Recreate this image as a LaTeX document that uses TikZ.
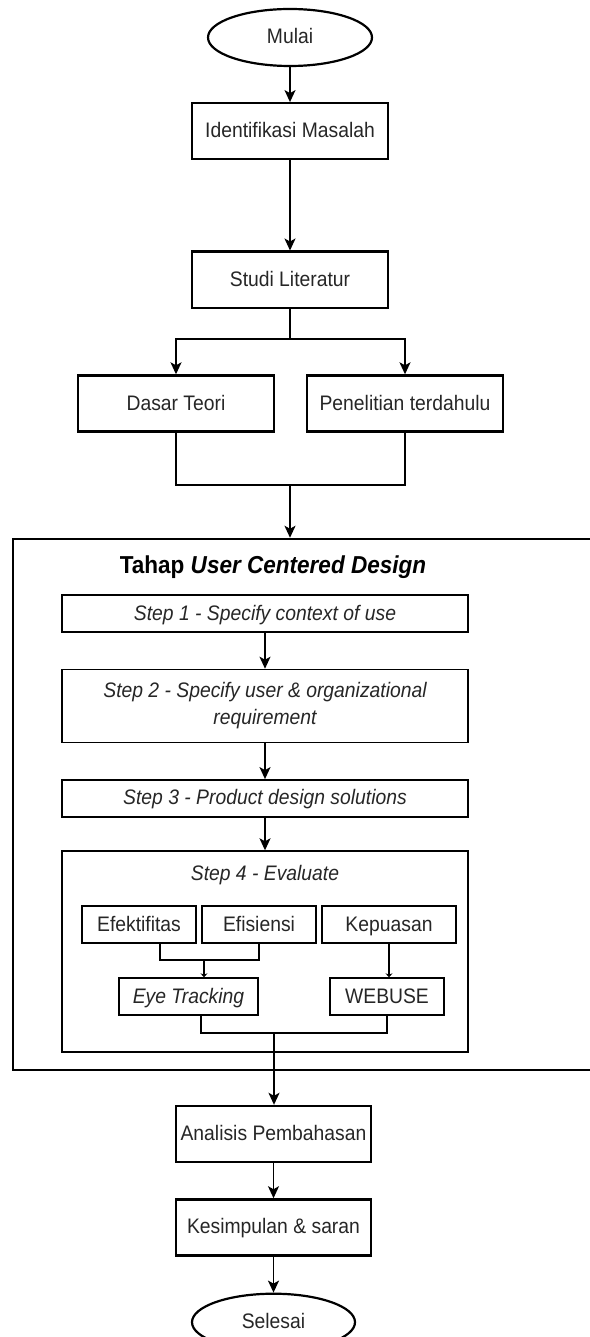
\documentclass[tikz,border=0pt]{standalone}
\usepackage{fontspec}
\setmainfont[FakeStretch=0.92]{Liberation Sans}
\usetikzlibrary{arrows.meta,positioning,shapes.geometric}

\begin{document}
\begin{tikzpicture}[x=1pt, y=-1pt,
    font=\fontsize{21}{26}\selectfont,
    mainbox/.style={draw, line width=2.4pt, minimum width=196pt, minimum height=56pt,
                    inner sep=0pt, align=center, text=black!85,
                    text height=15pt, text depth=2pt},
    termnode/.style={ellipse, draw, line width=2.2pt, minimum width=164pt,
                     minimum height=57pt, inner sep=0pt, text=black!85,
                     text height=15pt, text depth=2pt},
    stepbox/.style={draw, line width=1.4pt, minimum width=406pt, minimum height=37pt,
                    inner sep=0pt, align=center, text=black!85,
                    text height=15pt, text depth=2pt,
                    font=\fontsize{21}{27}\selectfont\itshape},
    evalbox/.style={draw, line width=1.4pt, minimum width=114pt, minimum height=37pt,
                    inner sep=0pt, text=black!85, text height=15pt, text depth=2pt},
    flowarrow/.style={-{Stealth[length=12pt,width=11pt,inset=3pt]}, line width=1.6pt},
    tinyarrow/.style={-{Stealth[length=4pt,width=7pt]}, line width=1.4pt},
    joinline/.style={line width=1.6pt},
    thinline/.style={line width=1.4pt},
  ]
  \useasboundingbox (0,0) rectangle (589,1337);

  % === Top: start and literature ===
  \node[termnode] (mulai) at (290,37.5) {Mulai};
  \node[mainbox, below=35pt of mulai] (ident) {Identifikasi Masalah};
  \node[mainbox, below=90pt of ident] (studi) {Studi Literatur};
  \node[mainbox] (dasar) at (176,403.5) {Dasar Teori};
  \node[mainbox] (penel) at (405,403.5) {Penelitian terdahulu};

  \draw[flowarrow] (mulai) -- (ident);
  \draw[flowarrow] (ident) -- (studi);

  % split and join
  \coordinate (split1) at (290,339);
  \coordinate (join1) at (290,485);
  \draw[joinline] (studi.south) -- (split1);
  \draw[flowarrow] (split1) -| (dasar.north);
  \draw[flowarrow] (split1) -| (penel.north);
  \draw[joinline] (dasar.south) |- (join1) -| (penel.south);

  % === UCD section ===
  \node[draw, line width=2.5pt, minimum width=607pt, minimum height=531pt,
        inner sep=0pt] (ucd) at (316.5,804.5) {};
  \draw[flowarrow] (join1) -- (join1 |- ucd.north);
  \node[text=black, font=\fontsize{24.5}{28}\selectfont\bfseries] (ucdtitle) at (273,567)
    {Tahap \textit{User Centered Design}};

  \node[stepbox] (step1) at (265,613.5) {Step 1 - Specify context of use};
  \node[stepbox, minimum height=73pt, text height=, text depth=, below=36pt of step1] (step2)
    {Step 2 - Specify user \& organizational\\requirement};
  \node[stepbox, below=36pt of step2] (step3) {Step 3 - Product design solutions};
  \node[draw, line width=1.4pt, minimum width=406pt, minimum height=201pt,
        inner sep=0pt] (step4) at (265,951.5) {};
  \node[text=black!85, font=\fontsize{21}{26}\selectfont\itshape] (evaltitle) at (265,875)
    {Step 4 - Evaluate};

  \draw[flowarrow] (step1) -- (step2);
  \draw[flowarrow] (step2) -- (step3);
  \draw[flowarrow] (step3) -- (step4);

  % evaluation aspects
  \node[evalbox] (efek) at (139,924.5) {Efektifitas};
  \node[evalbox] (efis) at (259,924.5) {Efisiensi};
  \node[evalbox, minimum width=134pt] (kepu) at (389,924.5) {Kepuasan};
  \node[evalbox, minimum width=139pt, font=\fontsize{21}{26}\selectfont\itshape]
    (eye) at (188.5,996.5) {Eye Tracking};
  \node[evalbox] (webuse) at (387,996.5) {WEBUSE};

  \coordinate (join2) at (204,960);
  \coordinate (join3) at (274,1033);
  \draw[thinline] ([xshift=21pt]efek.south) |- (join2) -| (efis.south);
  \draw[tinyarrow] (join2) -- (join2 |- eye.north);
  \draw[tinyarrow] (kepu.south) -- (kepu.south |- webuse.north);
  \draw[thinline] ([xshift=12.5pt]eye.south) |- (join3) -| (webuse.south);

  % === Bottom: analysis and end ===
  \node[mainbox, minimum width=195pt] (anal) at (273.5,1134) {Analisis Pembahasan};
  \node[mainbox, minimum width=195pt, below=35pt of anal] (kesim) {Kesimpulan \& saran};
  \node[termnode, minimum width=163pt, below=36pt of kesim] (selesai) {Selesai};

  \draw[flowarrow] (join3) -- (join3 |- anal.north);
  \draw[flowarrow] (anal) -- (kesim);
  \draw[flowarrow] (kesim) -- (selesai);
\end{tikzpicture}
\end{document}
